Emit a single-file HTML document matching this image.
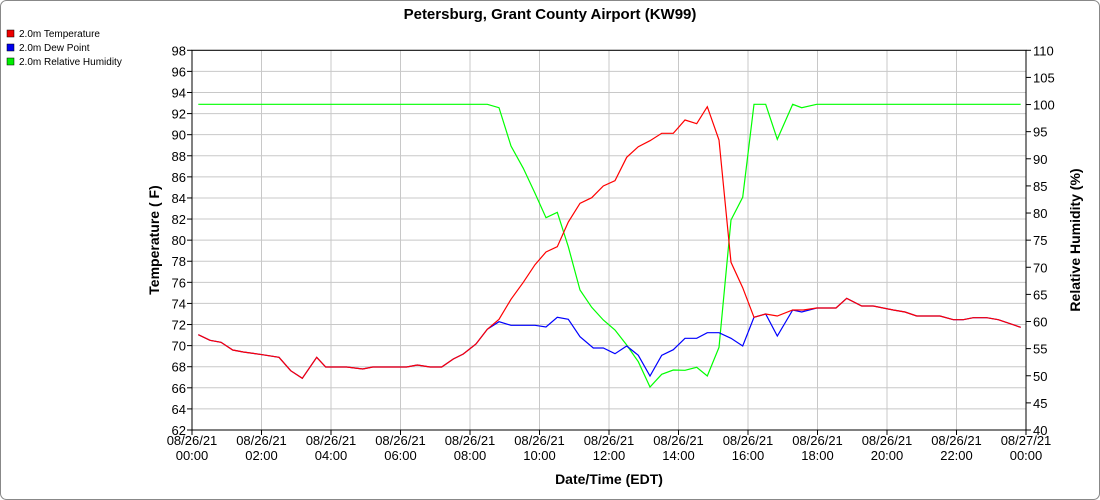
<!DOCTYPE html>
<html><head><meta charset="utf-8"><style>body{margin:0;background:#fff}svg{display:block;font-family:"Liberation Sans",Arial,sans-serif}</style></head><body>
<svg width="1100" height="500" viewBox="0 0 1100 500">
<rect x="0.5" y="0.5" width="1099" height="499" rx="6" fill="#fff" stroke="#888"/>
<text x="550" y="19" text-anchor="middle" font-size="15" font-weight="bold">Petersburg, Grant County Airport (KW99)</text>
<g font-size="10">
<rect x="7" y="30" width="7" height="7" fill="#e00" stroke="#000" stroke-width="0.5"/><text x="19" y="37">2.0m Temperature</text>
<rect x="7" y="44" width="7" height="7" fill="#00e" stroke="#000" stroke-width="0.5"/><text x="19" y="51">2.0m Dew Point</text>
<rect x="7" y="58" width="7" height="7" fill="#0e0" stroke="#000" stroke-width="0.5"/><text x="19" y="65">2.0m Relative Humidity</text>
</g>
<g stroke="#c8c8c8" stroke-width="1" id="grid"></g>
<g id="ticks" font-size="13"></g>
<rect x="192" y="50.3" width="834" height="379.7" fill="none" stroke="#000"/>
<polyline fill="none" stroke="#00ff00" stroke-width="1.2" points="198.3,104.3 487.3,104.3 499,107.7 511,146 523.3,168.3 535,193.3 546,217.7 557.3,212.3 568.3,246.7 580,290 591.7,307.3 603.3,320 615,330 626.7,345 638.3,361.7 650,387 661.7,374.3 673.3,370 685,370.3 696.7,367.3 707.3,376 719,347.3 731,220 742.7,197.3 754,104.3 765.7,104.3 777.3,139.3 792.7,104.3 801.7,107.7 816.7,104.3 1020.7,104.3"/>
<polyline fill="none" stroke="#0000ff" stroke-width="1.2" points="198.3,334.7 210,340.3 221,342.3 232.7,350 243.3,352 262.3,354.7 279,357.3 290.7,370.7 302.3,378.3 316.7,357.3 325.7,367 346.7,367 362.7,369 372.7,367 406.7,367 417.3,365 430,367 441.7,367 453.3,359 463.3,354 476,344 487.3,329.3 499,321.7 511,325.3 535,325.3 546,327 557.3,317.3 568.3,319.3 580,336.7 593.3,348 603.3,348 615,353.7 626.7,346 638.3,355.3 650,376 661.7,355.3 673.3,349.7 685,338.3 696.7,338.3 707.3,332.7 719,332.7 731,338.3 742.7,346 754,317.3 765.7,314 777.3,336 792.7,310 801.7,312 816.7,308 836,308 846.7,298.3 861.7,306 873.3,306 893.3,310 905,312 916.7,316 940,316 953.3,319.7 963.3,319.7 973.3,317.7 986.7,317.7 998.3,319.7 1020.7,327.3"/>
<polyline fill="none" stroke="#ff0000" stroke-width="1.2" points="198.3,334.7 210,340.3 221,342.3 232.7,350 243.3,352 262.3,354.7 279,357.3 290.7,370.7 302.3,378.3 316.7,357.3 325.7,367 346.7,367 362.7,369 372.7,367 406.7,367 417.3,365 430,367 441.7,367 453.3,359 463.3,354 476,344 487.3,329.3 499,319.3 511,299.3 523.3,282.3 535,264.7 546,252 557.3,246.7 568.3,222 580,203.3 591.7,197.7 603.3,186 615,180.7 626.7,157.3 638.3,146.7 650,140.7 661.7,133.3 673.3,133.3 685,120 696.7,123.7 707.3,106.7 719,140 731,262.3 742.7,287.7 754,317.3 765.7,314 777.3,316 792.7,310 803.3,310 816.7,308 836,308 846.7,298.3 861.7,306 873.3,306 893.3,310 905,312 916.7,316 940,316 953.3,319.7 963.3,319.7 973.3,317.7 986.7,317.7 998.3,319.7 1020.7,327.3"/>
<text transform="translate(159,240) rotate(-90)" text-anchor="middle" font-size="14" font-weight="bold">Temperature ( F)</text>
<text transform="translate(1080,240) rotate(-90)" text-anchor="middle" font-size="14" font-weight="bold">Relative Humidity (%)</text>
<text x="609" y="484" text-anchor="middle" font-size="14" font-weight="bold">Date/Time (EDT)</text>
<script>
(function(){
var ns="http://www.w3.org/2000/svg",g=document.getElementById("grid"),t=document.getElementById("ticks");
function el(p,n,a,txt){var e=document.createElementNS(ns,n);for(var k in a)e.setAttribute(k,a[k]);if(txt!=null)e.textContent=txt;p.appendChild(e);return e;}
var T0=50.3,B0=430,L=192,R=1026;
for(var i=0;i<=18;i++){var y=T0+i*(B0-T0)/18;el(g,"line",{x1:L,x2:R,y1:y,y2:y});el(t,"line",{x1:L-5,x2:L,y1:y,y2:y,stroke:"#000"});el(t,"text",{x:L-6,y:y+5,"text-anchor":"end"},98-2*i);}
for(var i=0;i<=14;i++){var y=T0+i*(B0-T0)/14;el(t,"line",{x1:R,x2:R+5,y1:y,y2:y,stroke:"#000"});el(t,"text",{x:R+7,y:y+5},110-5*i);}
var hrs=["00:00","02:00","04:00","06:00","08:00","10:00","12:00","14:00","16:00","18:00","20:00","22:00","00:00"];
for(var i=0;i<=12;i++){var x=L+i*(R-L)/12;el(g,"line",{x1:x,x2:x,y1:T0,y2:B0});el(t,"line",{x1:x,x2:x,y1:B0,y2:B0+5,stroke:"#000"});el(t,"text",{x:x,y:B0+15,"text-anchor":"middle"},i==12?"08/27/21":"08/26/21");el(t,"text",{x:x,y:B0+30,"text-anchor":"middle"},hrs[i]);}
})();
</script>
</svg>
</body></html>
